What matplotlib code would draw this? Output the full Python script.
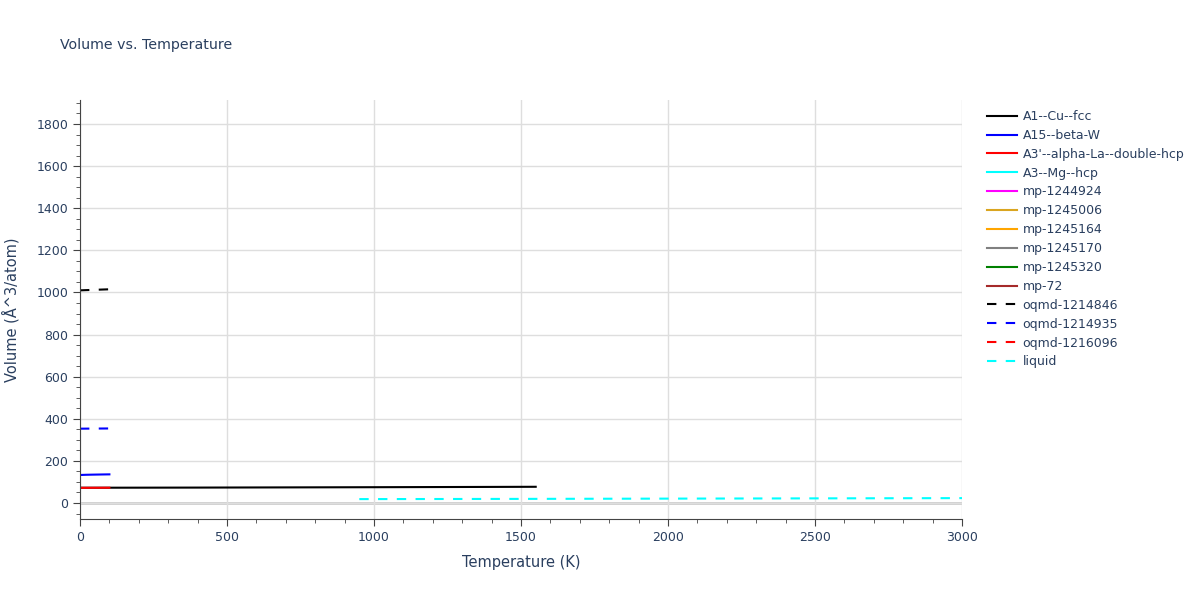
import numpy as np
import matplotlib
matplotlib.use('Agg')
import matplotlib.pyplot as plt

plt.rcParams['font.family'] = ['DejaVu Sans']
txt = '#2a3f5f'

# series data
cu_T = [0, 200, 400, 600, 800, 1000, 1200, 1400, 1550]
cu_V = [72.5, 72.8, 73.2, 73.8, 74.4, 75.0, 75.7, 76.4, 77.0]

short_T = [0, 20, 40, 60, 80, 100]
betaW_V = [133.0, 134.0, 134.6, 135.1, 135.6, 136.0]
laHcp_V = [72.0, 72.1, 72.2, 72.3, 72.4, 72.5]
oq846_V = [1010.0, 1011.0, 1012.0, 1013.0, 1014.0, 1015.0]
oq935_V = [353.0, 353.2, 353.4, 353.6, 353.8, 354.0]

liq_T = [950, 1500, 2000, 2500, 3000]
liq_V = [18.5, 19.5, 20.8, 22.0, 23.2]

solid = [
    ('A1--Cu--fcc', 'black', cu_T, cu_V),
    ('A15--beta-W', 'blue', short_T, betaW_V),
    ("A3'--alpha-La--double-hcp", 'red', short_T, laHcp_V),
    ('A3--Mg--hcp', 'cyan', [], []),
    ('mp-1244924', 'magenta', [], []),
    ('mp-1245006', 'goldenrod', [], []),
    ('mp-1245164', 'orange', [], []),
    ('mp-1245170', 'gray', [], []),
    ('mp-1245320', 'green', [], []),
    ('mp-72', 'brown', [], []),
]
dashed = [
    ('oqmd-1214846', 'black', short_T, oq846_V),
    ('oqmd-1214935', 'blue', short_T, oq935_V),
    ('oqmd-1216096', 'red', [], []),
    ('liquid', 'cyan', liq_T, liq_V),
]

fig = plt.figure(figsize=(12, 6), dpi=100)
ax = fig.add_axes([80/1200, 1-519/600, 882/1200, 419/600])

handles = []
for name, c, t, v in solid:
    h, = ax.plot(t, v, color=c, lw=1.5, label=name)
    handles.append(h)
for name, c, t, v in dashed:
    h, = ax.plot(t, v, color=c, lw=1.5, ls=(0, (4.5, 4.5)), label=name)
    handles.append(h)

ax.set_xlim(0, 3000)
ax.set_ylim(-76, 1914)
ax.set_xticks(np.arange(0, 3001, 500))
ax.set_xticks(np.arange(0, 3001, 100), minor=True)
ax.set_yticks(np.arange(0, 1801, 200))
ax.set_yticks(np.arange(-50, 1901, 50), minor=True)
ax.grid(True, which='major', color='#dedede', lw=1)
ax.axhline(0, color='#cccccc', lw=2, zorder=0.5)
ax.set_axisbelow(True)

for s in ['top', 'right']:
    ax.spines[s].set_visible(False)
for s in ['left', 'bottom']:
    ax.spines[s].set_color('#444444')
ax.tick_params(which='major', length=5, color='#444444', labelcolor=txt, labelsize=9)
ax.tick_params(which='minor', length=3, color='#444444')

ax.set_xlabel('Temperature (K)', color=txt, fontsize=10.5, labelpad=8)
ax.set_ylabel('Volume (Å^3/atom)', color=txt, fontsize=10.5, labelpad=12)
fig.text(60/1200, 1-45/600, 'Volume vs. Temperature', color=txt, fontsize=10.2, va='center')

fig.legend(handles=handles, loc='upper left', bbox_to_anchor=(982/1200, 1-105/600),
           frameon=False, fontsize=9, handlelength=2.4, handletextpad=0.45,
           labelspacing=0.47, labelcolor=txt, borderaxespad=0)

fig.savefig('out.png', dpi=100)
